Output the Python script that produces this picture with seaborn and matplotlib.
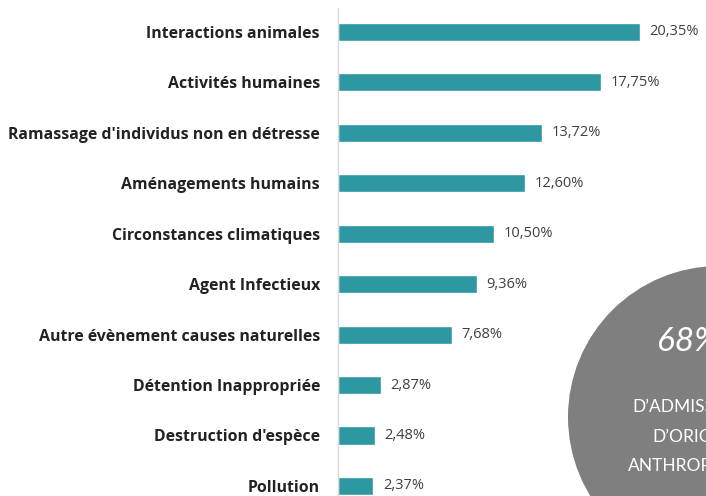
import matplotlib
matplotlib.use("Agg")
import pandas as pd
import seaborn as sns
import matplotlib.pyplot as plt
from matplotlib.patches import Circle
from matplotlib.transforms import IdentityTransform

causes = ["Interactions animales", "Activités humaines",
          "Ramassage d'individus non en détresse", "Aménagements humains",
          "Circonstances climatiques", "Agent Infectieux",
          "Autre évènement causes naturelles", "Détention Inappropriée",
          "Destruction d'espèce", "Pollution"]
pourcentages = [20.35, 17.75, 13.72, 12.60, 10.50, 9.36, 7.68, 2.87, 2.48, 2.37]
etiquettes = [f"{v:.2f}".replace(".", ",") + "%" for v in pourcentages]

bulle_chiffre = "68%"
bulle_lignes = ["D\u2019ADMISSIONS", "D\u2019ORIGINE", "ANTHROPIQUE"]

tabela = pd.DataFrame({"cause": causes, "pct": pourcentages})

sns.set_style("white")
plt.rcParams["font.family"] = ["Open Sans", "DejaVu Sans"]

fig = plt.figure(figsize=(7.06, 4.96), dpi=100)
ax = fig.add_axes([338 / 706, 0, (706 - 338) / 706, 488 / 496])

sns.barplot(data=tabela, x="pct", y="cause", orient="h", color="#2e98a2",
            saturation=1, width=0.36, ax=ax)
ax.bar_label(ax.containers[0], labels=etiquettes, padding=7,
             fontsize=10.5, color="#404040")

ax.set_xlim(0, 24.8)
ax.set_ylim(9.2, -0.475)
ax.set_xlabel("")
ax.set_ylabel("")
ax.set_xticks([])
ax.tick_params(axis="y", length=0, pad=13)
for lab in ax.get_yticklabels():
    lab.set_fontweight("bold")
    lab.set_fontsize(11.4)
    lab.set_color("#222222")
for s in ["top", "right", "bottom"]:
    ax.spines[s].set_visible(False)
ax.spines["left"].set_color("#d9d9d9")
ax.spines["left"].set_linewidth(1)

# bulle grise en bas a droite
H = 496
fig.add_artist(Circle((719, H - 417), 151, transform=IdentityTransform(),
                      facecolor="#7f7f7f", edgecolor="none", zorder=10))
fig.text(657 / 706, (H - 342) / H, bulle_chiffre, fontsize=24, style="italic",
         color="white", ha="left", va="center", zorder=11,
         family=["Lato", "DejaVu Sans"])
for txt, x, y in zip(bulle_lignes, [632, 652, 628], [407, 437, 466]):
    fig.text(x / 706, (H - y) / H, txt, fontsize=12.5, color="white",
             ha="left", va="center", zorder=11,
             family=["Lato", "DejaVu Sans"])

fig.savefig("out.png", dpi=100)
